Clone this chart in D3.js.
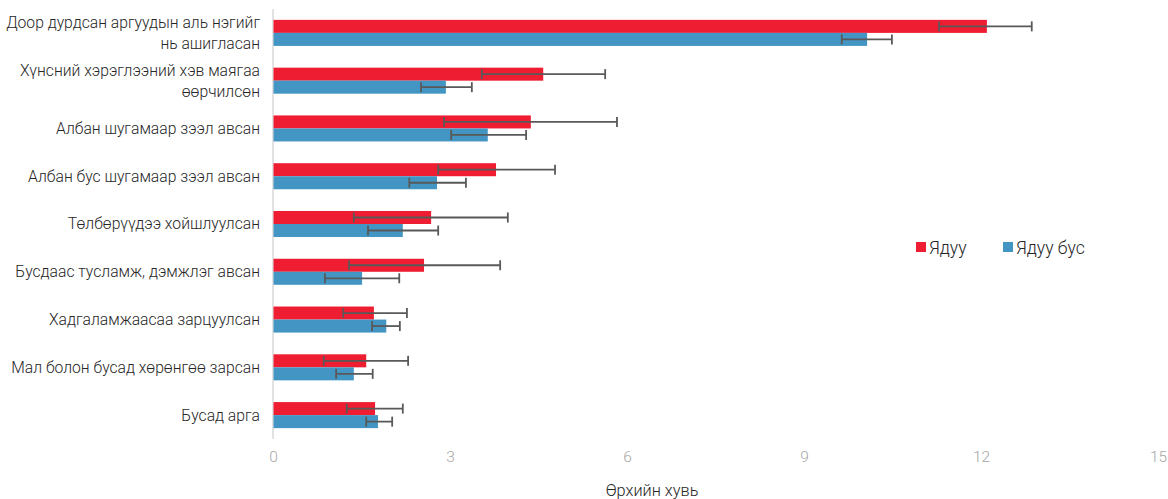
<!DOCTYPE html>
<html>
<head>
<meta charset="utf-8">
<script src="https://cdn.jsdelivr.net/npm/d3@7"></script>
<style>
  html, body { margin: 0; padding: 0; background: #fff; }
  svg { display: block; font-family: Roboto, "Noto Sans", sans-serif; }
</style>
</head>
<body>
<svg id="chart" width="1168" height="499"></svg>
<script>
const categories = [
  ["Доор дурдсан аргуудын аль нэгийг", "нь ашигласан"],
  ["Хүнсний хэрэглээний хэв маягаа", "өөрчилсөн"],
  ["Албан шугамаар зээл авсан"],
  ["Албан бус шугамаар зээл авсан"],
  ["Төлбөрүүдээ хойшлуулсан"],
  ["Бусдаас тусламж, дэмжлэг авсан"],
  ["Хадгаламжаасаа зарцуулсан"],
  ["Мал болон бусад хөрөнгөө зарсан"],
  ["Бусад арга"]
];
const seriesNames = ["Ядуу", "Ядуу бус"];
const poorValues    = [12.10, 4.58, 4.37, 3.78, 2.68, 2.56, 1.71, 1.58, 1.73];
const poorLower     = [11.29, 3.54, 2.90, 2.80, 1.37, 1.29, 1.19, 0.86, 1.25];
const poorUpper     = [12.86, 5.63, 5.83, 4.78, 3.98, 3.85, 2.27, 2.29, 2.20];
const nonPoorValues = [10.07, 2.93, 3.64, 2.78, 2.20, 1.51, 1.92, 1.37, 1.78];
const nonPoorLower  = [ 9.64, 2.51, 3.02, 2.31, 1.61, 0.88, 1.68, 1.07, 1.58];
const nonPoorUpper  = [10.49, 3.37, 4.29, 3.27, 2.80, 2.14, 2.15, 1.69, 2.02];
const xTicks = [0, 3, 6, 9, 12, 15];
const xTitle = "Өрхийн хувь";

const colors = ["#EE1D31", "#4396C4"];

const svg = d3.select("#chart");
const margin = {left: 273, right: 10, top: 9, bottom: 60};

const x = d3.scaleLinear().domain([0, 15]).range([margin.left, 1158]);
const y = d3.scaleBand().domain(d3.range(categories.length))
  .range([margin.top, 439]).paddingInner(0.455).paddingOuter(0.2275);
const sub = d3.scaleBand().domain([0, 1]).range([0, y.bandwidth()]);

const series = [
  {values: poorValues, lower: poorLower, upper: poorUpper},
  {values: nonPoorValues, lower: nonPoorLower, upper: nonPoorUpper}
];

// y axis line
svg.append("line")
  .attr("x1", x(0)).attr("x2", x(0))
  .attr("y1", margin.top).attr("y2", 439)
  .attr("stroke", "#d9d9d9").attr("stroke-width", 1.5);

// bars
series.forEach((s, si) => {
  svg.append("g").selectAll("rect")
    .data(s.values)
    .join("rect")
    .attr("x", x(0) + 0.5)
    .attr("y", (d, i) => y(i) + sub(si))
    .attr("width", d => x(d) - x(0) - 0.5)
    .attr("height", sub.bandwidth())
    .attr("fill", colors[si]);
});

// error bars
series.forEach((s, si) => {
  const g = svg.append("g").attr("stroke", "#595959").attr("stroke-width", 1.8);
  s.values.forEach((v, i) => {
    const cy = y(i) + sub(si) + sub.bandwidth() / 2;
    g.append("line").attr("x1", x(s.lower[i])).attr("x2", x(s.upper[i]))
      .attr("y1", cy).attr("y2", cy);
    [s.lower[i], s.upper[i]].forEach(e => {
      g.append("line").attr("x1", x(e)).attr("x2", x(e))
        .attr("y1", cy - 5).attr("y2", cy + 5);
    });
  });
});

// category labels
const lab = svg.append("g").attr("font-size", 15.7).attr("font-weight", 300)
  .attr("fill", "#262626").attr("text-anchor", "end");
categories.forEach((lines, i) => {
  const cy = y(i) + y.bandwidth() / 2;
  const lh = 21;
  const t = lab.append("text").attr("x", 260);
  lines.forEach((ln, k) => {
    t.append("tspan").attr("x", 260)
      .attr("y", cy + (k - (lines.length - 1) / 2) * lh)
      .attr("dy", "0.35em").text(ln);
  });
});

// x axis tick labels
const xAxis = d3.axisBottom(x).tickValues(xTicks).tickSize(0).tickPadding(0);
const ax = svg.append("g").attr("transform", "translate(0,451)").call(xAxis);
ax.select(".domain").remove();
ax.selectAll("text").attr("font-size", 15.5).attr("font-family", "Roboto")
  .attr("font-weight", 300).attr("fill", "#a6a6a6");

svg.append("text").attr("x", 652).attr("y", 496)
  .attr("text-anchor", "middle").attr("font-size", 16.3).attr("font-weight", 300)
  .attr("fill", "#262626").text(xTitle);

// legend
const legendX = [916, 1003];
seriesNames.forEach((n, i) => {
  svg.append("rect").attr("x", legendX[i]).attr("y", 242).attr("width", 10).attr("height", 10)
    .attr("fill", colors[i]);
  svg.append("text").attr("x", legendX[i] + 13).attr("y", 253.5)
    .attr("font-size", 17.6).attr("font-weight", 300).attr("fill", "#262626").text(n);
});
</script>
</body>
</html>
